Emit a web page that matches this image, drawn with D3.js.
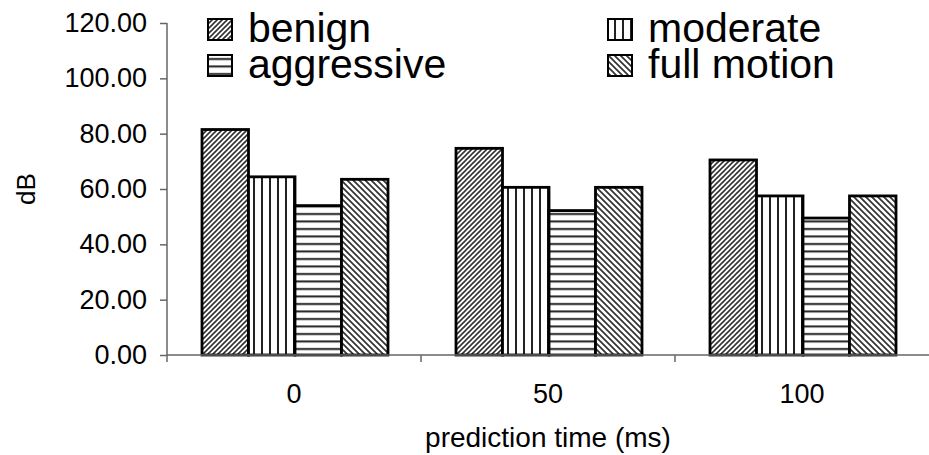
<!DOCTYPE html>
<html lang="en">

<head>
    <meta charset="utf-8">
    <title>prediction time bars</title>
    <script src="https://cdn.jsdelivr.net/npm/d3@7/dist/d3.min.js"></script>
    <style>
        body { margin: 0; background: #fff; }
        text { font-family: "Liberation Sans", Arial, sans-serif; fill: #000; }
    </style>
</head>

<body>
    <script>
        var categories = ['0', '50', '100'];
        var series = ['benign', 'moderate', 'aggressive', 'full motion'];
        var benign = [81.5, 74.7, 70.5];
        var moderate = [64.4, 60.6, 57.5];
        var aggressive = [54.0, 52.2, 49.5];
        var fullMotion = [63.5, 60.6, 57.5];
        var yTicks = [0, 20, 40, 60, 80, 100, 120];

        var values = [benign, moderate, aggressive, fullMotion];
        var patternIds = ['p-benign', 'p-moderate', 'p-aggressive', 'p-full'];

        var width = 929, height = 455;
        var svg = d3.select('body').append('svg')
            .attr('width', width)
            .attr('height', height);

        // hatch patterns
        var defs = svg.append('defs');
        var p1 = defs.append('pattern').attr('id', 'p-benign')
            .attr('patternUnits', 'userSpaceOnUse').attr('width', 5).attr('height', 5);
        p1.append('rect').attr('width', 5).attr('height', 5).attr('fill', '#fff');
        p1.append('path').attr('d', 'M-1,1 L1,-1 M0,5 L5,0 M4,6 L6,4')
            .attr('stroke', '#333').attr('stroke-width', 1.6);

        var p4 = defs.append('pattern').attr('id', 'p-full')
            .attr('patternUnits', 'userSpaceOnUse').attr('width', 6).attr('height', 6);
        p4.append('rect').attr('width', 6).attr('height', 6).attr('fill', '#fff');
        p4.append('path').attr('d', 'M-1,5 L1,7 M0,0 L6,6 M5,-1 L7,1')
            .attr('stroke', '#333').attr('stroke-width', 1.7);

        var p2 = defs.append('pattern').attr('id', 'p-moderate')
            .attr('patternUnits', 'userSpaceOnUse').attr('width', 8).attr('height', 8).attr('x', 3);
        p2.append('rect').attr('width', 8).attr('height', 8).attr('fill', '#fff');
        p2.append('rect').attr('x', 3).attr('width', 2).attr('height', 8).attr('fill', '#222');

        var p3 = defs.append('pattern').attr('id', 'p-aggressive')
            .attr('patternUnits', 'userSpaceOnUse').attr('width', 8).attr('height', 7.5);
        p3.append('rect').attr('width', 8).attr('height', 7.5).attr('fill', '#fff');
        p3.append('rect').attr('y', 3).attr('width', 8).attr('height', 2).attr('fill', '#222');

        // scales
        var x0 = d3.scaleBand().domain(categories).range([167, 929]);
        var x1 = d3.scaleBand().domain(series).range([35, 221]);
        var y = d3.scaleLinear().domain([0, 120]).range([355, 23]);

        // bars
        var groups = svg.append('g').selectAll('g')
            .data(categories)
            .enter().append('g')
            .attr('transform', d => `translate(${x0(d)},0)`);

        groups.selectAll('rect')
            .data((c, ci) => series.map((s, si) => ({ s: s, si: si, v: values[si][ci] })))
            .enter().append('rect')
            .attr('x', d => x1(d.s))
            .attr('width', x1.bandwidth())
            .attr('y', d => y(d.v))
            .attr('height', d => y(0) - y(d.v))
            .attr('fill', d => `url(#${patternIds[d.si]})`)
            .attr('stroke', '#000')
            .attr('stroke-width', 2.8);

        // y axis
        var yAxis = svg.append('g')
            .attr('transform', 'translate(167,0)')
            .call(d3.axisLeft(y).tickValues(yTicks).tickFormat(d3.format('.2f')).tickSize(7).tickPadding(13));
        yAxis.selectAll('line, path').attr('stroke', '#666').attr('stroke-width', 1.5);
        yAxis.select('.domain').attr('d', 'M0,23 V355');
        yAxis.selectAll('text').style('font-size', '27px').attr('fill', '#000');

        // x axis
        var xAxis = svg.append('g');
        xAxis.append('line')
            .attr('x1', x0.range()[0]).attr('x2', x0.range()[1])
            .attr('y1', y(0)).attr('y2', y(0))
            .attr('stroke', '#666').attr('stroke-width', 1.5);
        xAxis.selectAll('.tick')
            .data(categories)
            .enter().append('line')
            .attr('x1', d => x0(d)).attr('x2', d => x0(d))
            .attr('y1', y(0)).attr('y2', y(0) + 7)
            .attr('stroke', '#666').attr('stroke-width', 1.5);
        xAxis.selectAll('text')
            .data(categories)
            .enter().append('text')
            .attr('x', d => x0(d) + x0.bandwidth() / 2)
            .attr('y', 403)
            .attr('text-anchor', 'middle')
            .style('font-size', '27px')
            .text(d => d);

        svg.append('text')
            .attr('x', 548).attr('y', 447)
            .attr('text-anchor', 'middle')
            .style('font-size', '28px')
            .text('prediction time (ms)');

        svg.append('text')
            .attr('transform', 'translate(35,189) rotate(-90)')
            .attr('text-anchor', 'middle')
            .style('font-size', '26px')
            .text('dB');

        // legend
        var legend = svg.append('g').selectAll('g')
            .data(series)
            .enter().append('g')
            .attr('transform', (d, i) => `translate(${i % 2 ? 608 : 208},${i < 2 ? 19 : 55})`);
        legend.append('rect')
            .attr('width', 24).attr('height', 21)
            .attr('fill', (d, i) => `url(#${patternIds[i]})`)
            .attr('stroke', '#000').attr('stroke-width', 2);
        legend.append('text')
            .attr('x', 40).attr('y', 23)
            .style('font-size', '41px')
            .text(d => d);
    </script>
</body>

</html>
